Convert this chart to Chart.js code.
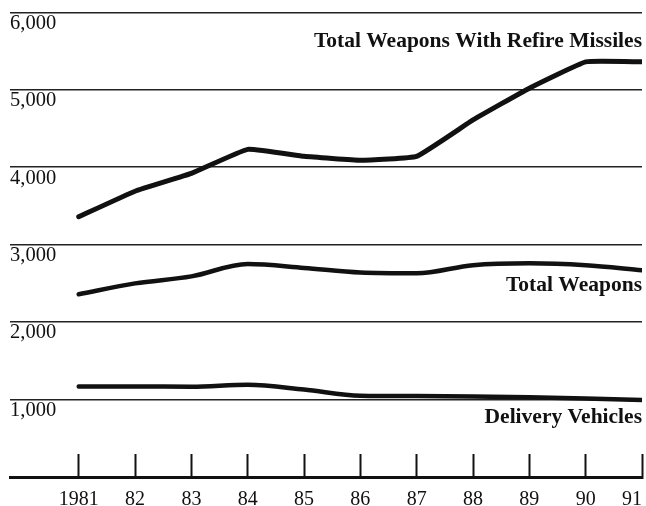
<!DOCTYPE html>
<html>
<head>
<meta charset="utf-8">
<script src="https://cdn.jsdelivr.net/npm/chart.js@4"></script>
<style>
  html, body { margin: 0; padding: 0; background: #fff; }
  #wrap { width: 646px; height: 506px; }
</style>
</head>
<body>
<div id="wrap"><canvas id="myChart" width="646" height="506"></canvas></div>
<script>
const years = [1981, 1982, 1983, 1984, 1985, 1986, 1987, 1988, 1989, 1990, 1991];
const year_labels = ["1981", "82", "83", "84", "85", "86", "87", "88", "89", "90", "91"];
const refire_values = [3360, 3690, 3920, 4230, 4140, 4090, 4140, 4610, 5020, 5360, 5360];
const weapons_values = [2360, 2500, 2590, 2750, 2700, 2640, 2630, 2735, 2760, 2735, 2670];
const vehicles_values = [1170, 1170, 1165, 1190, 1130, 1050, 1045, 1040, 1030, 1015, 995];
const y_ticks = [0, 1000, 2000, 3000, 4000, 5000, 6000];
const series_names = ["Total Weapons With Refire Missiles", "Total Weapons", "Delivery Vehicles"];

const serif = "'Liberation Serif', 'Times New Roman', serif";
const ink = "#111";

// series names sit right-aligned under/over their lines
const label_baselines = [5550, 2405, 700];
const seriesLabels = {
  id: "seriesLabels",
  afterDatasetsDraw(chart) {
    const { ctx, chartArea, scales } = chart;
    ctx.save();
    ctx.font = "bold 21.5px " + serif;
    ctx.fillStyle = ink;
    ctx.textAlign = "right";
    ctx.textBaseline = "alphabetic";
    chart.data.datasets.forEach((ds, i) => {
      ctx.fillText(ds.label, chartArea.right, scales.y.getPixelForValue(label_baselines[i]));
    });
    ctx.restore();
  },
};

const toPoints = (vals) => vals.map((v, i) => ({ x: years[i], y: v }));

const data = {
  datasets: [
    {
      label: series_names[0],
      data: toPoints(refire_values),
      borderColor: ink,
      borderWidth: 5,
      tension: 0.1,
    },
    {
      label: series_names[1],
      data: toPoints(weapons_values),
      borderColor: ink,
      borderWidth: 4.5,
      cubicInterpolationMode: "monotone",
    },
    {
      label: series_names[2],
      data: toPoints(vehicles_values),
      borderColor: ink,
      borderWidth: 4.5,
      cubicInterpolationMode: "monotone",
    },
  ],
};

const config = {
  type: "line",
  data,
  options: {
    responsive: false,
    animation: false,
    devicePixelRatio: 1,
    layout: { padding: { left: 10, right: 4, top: 10, bottom: 0 } },
    elements: {
      point: { radius: 0 },
      line: { borderCapStyle: "round", borderJoinStyle: "round", fill: false },
    },
    plugins: { legend: { display: false }, tooltip: { enabled: false } },
    scales: {
      x: {
        type: "linear",
        min: 1979.78,
        max: 1991,
        afterBuildTicks: (scale) => {
          scale.ticks = years.map((v) => ({ value: v }));
        },
        afterFit: (scale) => {
          // tick marks point up into the plot, labels sit below the axis
          scale.height = 29;
          scale.paddingLeft = 0;
          scale.paddingRight = 0;
        },
        grid: { drawOnChartArea: false, drawTicks: true, tickLength: -23, tickWidth: 2, tickColor: ink },
        border: { display: true, color: ink, width: 3 },
        ticks: {
          padding: 34,
          color: ink,
          maxRotation: 0,
          autoSkip: false,
          font: { family: serif, size: 20 },
          callback: (v) => {
            const i = years.indexOf(v);
            // last label is pulled in so it stays on the page
            return i === years.length - 1 ? year_labels[i] + "\u2002\u2002" : year_labels[i];
          },
        },
      },
      y: {
        min: 0,
        max: 6000,
        afterBuildTicks: (scale) => {
          scale.ticks = y_ticks.map((v) => ({ value: v }));
        },
        afterFit: (scale) => {
          scale.width = 0;
        },
        grid: { color: "#222", lineWidth: 1.5, drawTicks: false },
        border: { display: false },
        ticks: {
          mirror: true,
          padding: 0,
          labelOffset: 11,
          color: ink,
          font: { family: serif, size: 20.5 },
          callback: (v) => (v === 0 ? "" : v.toLocaleString("en-US")),
        },
      },
    },
  },
  plugins: [seriesLabels],
};

const myChart = new Chart(document.getElementById("myChart"), config);
</script>
</body>
</html>
